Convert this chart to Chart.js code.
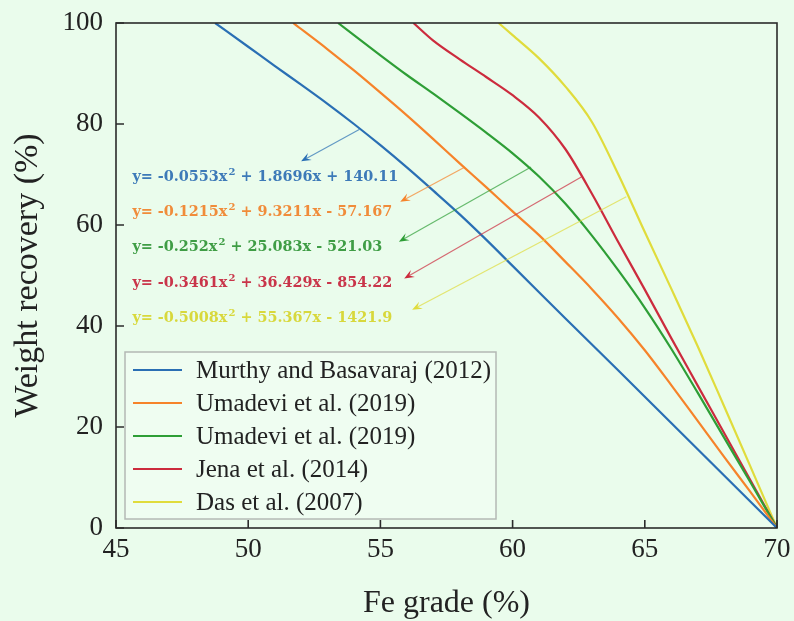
<!DOCTYPE html>
<html>
<head>
<meta charset="utf-8">
<script src="https://cdn.jsdelivr.net/npm/chart.js@4.4.0/dist/chart.umd.min.js"></script>
<style>
  html, body { margin: 0; padding: 0; background: #eafcec; }
  #wrap { width: 794px; height: 621px; }
</style>
</head>
<body>
<div id="wrap"><canvas id="chart" width="794" height="621"></canvas></div>
<script>
// values
const seriesLabels = ['Murthy and Basavaraj (2012)', 'Umadevi et al. (2019)', 'Umadevi et al. (2019)', 'Jena et al. (2014)', 'Das et al. (2007)'];
const murthyX = [48.75, 50, 51, 52, 53, 54, 55, 56, 57, 58, 59, 60, 61, 62, 64, 66, 68, 70];
const murthyY = [100, 95.3, 91.5, 87.8, 84.0, 80.0, 75.8, 71.4, 66.8, 62.1, 57.1, 51.9, 46.7, 41.5, 31.2, 20.8, 10.4, 0];
const umadeviAX = [51.7, 53, 54, 55, 56, 57, 58, 59, 60, 61, 62, 63, 64, 65, 66, 67, 68, 69, 70];
const umadeviAY = [100, 94.8, 90.6, 86.2, 81.7, 77.0, 72.2, 67.5, 62.7, 58.0, 52.7, 47.3, 41.5, 35.2, 28.3, 21.2, 14.1, 7.1, 0];
const umadeviBX = [53.4, 54, 55, 56, 57, 58, 59, 60, 61, 62, 63, 64, 65, 66, 67, 68, 69, 70];
const umadeviBY = [100, 97.6, 93.6, 89.7, 86.0, 82.2, 78.3, 74.2, 69.6, 64.2, 57.9, 51.0, 43.6, 35.5, 26.8, 17.9, 9.0, 0];
const jenaX = [56.25, 57, 58, 59, 60, 61, 62, 63, 64, 65, 66, 67, 68, 69, 70];
const jenaY = [100, 96.5, 92.8, 89.3, 85.7, 81.3, 75.0, 66.2, 56.6, 47.2, 37.6, 28.2, 18.8, 9.4, 0];
const dasX = [59.47, 60, 61, 62, 63, 64, 65, 66, 67, 68, 69, 70];
const dasY = [100, 97.6, 93.0, 87.4, 80.4, 70.0, 58.6, 47.4, 36.0, 24.1, 12.1, 0];
const xTicks = [45, 50, 55, 60, 65, 70];
const yTicks = [0, 20, 40, 60, 80, 100];

// fitted equations and where their arrows point
const eqHead = ['y= -0.0553x', 'y= -0.1215x', 'y= -0.252x', 'y= -0.3461x', 'y= -0.5008x'];
const eqTail = [' + 1.8696x + 140.11', ' + 9.3211x - 57.167', ' + 25.083x - 521.03', ' + 36.429x - 854.22', ' + 55.367x - 1421.9'];
const eqX = [45.62, 45.62, 45.62, 45.62, 45.62];
const eqY = [69.5, 62.5, 55.6, 48.4, 41.5];
const arrowFromX = [54.2, 58.2, 60.7, 62.6, 64.3];
const arrowFromY = [78.9, 71.5, 71.5, 69.5, 65.6];
const arrowToX = [52.0, 55.75, 55.7, 55.9, 56.2];
const arrowToY = [72.6, 64.6, 56.7, 49.4, 43.2];

const lineColors = ['#2a6fb4', '#f6832a', '#2e9e36', '#cc2b3d', '#e0dc3c'];
const textColors = ['#3d7ab8', '#f08c3a', '#3f9d45', '#c9354a', '#d8d83c'];
const seriesX = [murthyX, umadeviAX, umadeviBX, jenaX, dasX];
const seriesY = [murthyY, umadeviAY, umadeviBY, jenaY, dasY];

const serif = '"Liberation Serif", "Times New Roman", serif';
const bg = '#eafcec';

function drawArrow(ctx, x1, y1, x2, y2, color) {
  const a = Math.atan2(y2 - y1, x2 - x1);
  const L = 10, W = 4;
  const c = Math.cos(a), s = Math.sin(a);
  ctx.save();
  ctx.strokeStyle = color;
  ctx.globalAlpha = 0.7;
  ctx.lineWidth = 1.2;
  ctx.beginPath();
  ctx.moveTo(x1, y1);
  ctx.lineTo(x2 - L * 0.6 * c, y2 - L * 0.6 * s);
  ctx.stroke();
  ctx.globalAlpha = 1;
  ctx.fillStyle = color;
  ctx.beginPath();
  ctx.moveTo(x2, y2);
  ctx.lineTo(x2 - L * c + W * s, y2 - L * s - W * c);
  ctx.lineTo(x2 - L * 0.6 * c, y2 - L * 0.6 * s);
  ctx.lineTo(x2 - L * c - W * s, y2 - L * s + W * c);
  ctx.closePath();
  ctx.fill();
  ctx.restore();
}

const decorPlugin = {
  id: 'decor',
  beforeDraw(chart) {
    const ctx = chart.ctx;
    ctx.save();
    ctx.fillStyle = bg;
    ctx.fillRect(0, 0, chart.width, chart.height);
    ctx.restore();
  },
  afterDatasetsDraw(chart) {
    const { ctx, chartArea: a, scales: { x, y } } = chart;

    // equation arrows + text
    for (let i = 0; i < eqHead.length; i++) {
      drawArrow(ctx, x.getPixelForValue(arrowFromX[i]), y.getPixelForValue(arrowFromY[i]),
        x.getPixelForValue(arrowToX[i]), y.getPixelForValue(arrowToY[i]), lineColors[i]);
      const px = x.getPixelForValue(eqX[i]);
      const py = y.getPixelForValue(eqY[i]);
      ctx.save();
      ctx.fillStyle = textColors[i];
      ctx.textBaseline = 'middle';
      ctx.font = 'bold 14.4px "DejaVu Serif"';
      ctx.fillText(eqHead[i], px, py);
      let w = ctx.measureText(eqHead[i]).width;
      ctx.font = 'bold 10px "DejaVu Serif"';
      ctx.fillText('2', px + w + 1, py - 5);
      w += ctx.measureText('2').width + 1;
      ctx.font = 'bold 14.4px "DejaVu Serif"';
      ctx.fillText(eqTail[i], px + w, py);
      ctx.restore();
    }

    // frame and inward ticks
    ctx.save();
    ctx.strokeStyle = '#2b2b2b';
    ctx.lineWidth = 1.6;
    ctx.strokeRect(a.left, a.top, a.right - a.left, a.bottom - a.top);
    ctx.beginPath();
    xTicks.forEach(v => {
      const p = x.getPixelForValue(v);
      ctx.moveTo(p, a.bottom); ctx.lineTo(p, a.bottom - 8);
    });
    yTicks.forEach(v => {
      const p = y.getPixelForValue(v);
      ctx.moveTo(a.left, p); ctx.lineTo(a.left + 8, p);
    });
    ctx.stroke();
    ctx.restore();

    // legend box
    const lx = a.left + 9, ly = 352, lw = 371, lh = 167;
    ctx.save();
    ctx.fillStyle = 'rgba(240,253,242,0.8)';
    ctx.strokeStyle = '#b4b8b4';
    ctx.lineWidth = 1.5;
    ctx.fillRect(lx, ly, lw, lh);
    ctx.strokeRect(lx, ly, lw, lh);
    ctx.font = '25px ' + serif;
    ctx.textBaseline = 'middle';
    chart.data.datasets.forEach((ds, i) => {
      const cy = ly + 18 + i * 33;
      ctx.strokeStyle = ds.borderColor;
      ctx.lineWidth = 2.2;
      ctx.beginPath();
      ctx.moveTo(lx + 8, cy); ctx.lineTo(lx + 57, cy);
      ctx.stroke();
      ctx.fillStyle = '#222';
      ctx.fillText(ds.label, lx + 71, cy + 1);
    });
    ctx.restore();
  }
};

const datasets = seriesLabels.map((label, i) => ({
  label,
  data: seriesX[i].map((v, j) => ({ x: v, y: seriesY[i][j] })),
  borderColor: lineColors[i],
  borderWidth: 2.2,
  pointRadius: 0,
  cubicInterpolationMode: 'monotone',
  fill: false
}));

new Chart(document.getElementById('chart'), {
  type: 'line',
  data: { datasets },
  options: {
    responsive: false,
    animation: false,
    layout: { padding: { top: 23, right: 17, left: 0, bottom: 0 } },
    plugins: { legend: { display: false }, tooltip: { enabled: false } },
    scales: {
      x: {
        type: 'linear', min: 45, max: 70,
        grid: { display: false, drawTicks: false },
        border: { display: false },
        ticks: { padding: 6, color: '#222', font: { family: serif, size: 27 } },
        afterBuildTicks(s) { s.ticks = xTicks.map(v => ({ value: v })); },
        afterFit(s) { s.height = 93; s.paddingLeft = 0; s.paddingRight = 0; },
        title: { display: true, text: 'Fe grade (%)', color: '#222', font: { family: serif, size: 32, lineHeight: 1.1 }, padding: { top: 0, bottom: 0 } }
      },
      y: {
        type: 'linear', min: 0, max: 100,
        grid: { display: false, drawTicks: false },
        border: { display: false },
        ticks: { padding: 13, color: '#222', font: { family: serif, size: 27 } },
        afterBuildTicks(s) { s.ticks = yTicks.map(v => ({ value: v })); },
        afterFit(s) { s.width = 116; s.paddingTop = 0; s.paddingBottom = 0; },
        title: { display: true, text: 'Weight recovery (%)', color: '#222', font: { family: serif, size: 34 }, padding: { top: 8, bottom: 0 } }
      }
    }
  },
  plugins: [decorPlugin]
});
</script>
</body>
</html>
